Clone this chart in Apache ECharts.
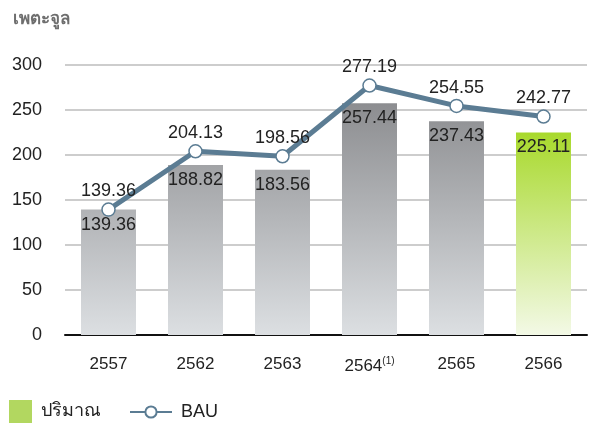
<!DOCTYPE html>
<html>
<head>
<meta charset="utf-8">
<script src="https://cdn.jsdelivr.net/npm/echarts@6/dist/echarts.min.js"></script>
<style>html,body{margin:0;padding:0;background:#fff;}#c{width:590px;height:426px;}</style>
</head>
<body>
<div id="c"></div>
<script>
var categories = ['2557', '2562', '2563', '2564', '2565', '2566'];
var volumeValues = [139.36, 188.82, 183.56, 257.44, 237.43, 225.11];
var bauValues = [139.36, 204.13, 198.56, 277.19, 254.55, 242.77];
var yTicks = [0, 50, 100, 150, 200, 250, 300];
var unitLabel = 'เพตะจูล';
var seriesNames = ['ปริมาณ', 'BAU'];

var FONT = '"Liberation Sans", Arial, "Noto Sans", sans-serif';
var chart = echarts.init(document.getElementById('c'));

var grayGrad = new echarts.graphic.LinearGradient(0, 100, 0, 335, [
  {offset: 0, color: '#8b8c8f'},
  {offset: 1, color: '#dcdfe2'}
], true);
var greenGrad = new echarts.graphic.LinearGradient(0, 0, 0, 1, [
  {offset: 0, color: '#a8d92c'},
  {offset: 1, color: '#f3f9e6'}
]);

var barData = volumeValues.map(function (v, i) {
  return {
    value: v,
    itemStyle: {color: i === volumeValues.length - 1 ? greenGrad : grayGrad}
  };
});

chart.setOption({
  animation: false,
  textStyle: {fontFamily: FONT},
  title: {
    text: unitLabel, left: 8, top: 6,
    textStyle: {fontSize: 17, color: '#6e6e6e', fontWeight: 'bold', fontFamily: FONT}
  },
  legend: [{
    data: [{name: seriesNames[0], icon: 'rect', itemStyle: {color: '#b2d760'}}],
    left: 4, top: 395, itemWidth: 23, itemHeight: 23, itemGap: 10,
    textStyle: {fontSize: 18, color: '#222', padding: [0, 0, 0, 4]}
  }, {
    data: [seriesNames[1]],
    left: 124, top: 398, itemWidth: 42, itemHeight: 14,
    textStyle: {fontSize: 18, color: '#222', padding: [0, 0, 0, 4]}
  }],
  grid: {left: 65, right: 3, top: 65, bottom: 91, containLabel: false},
  xAxis: {
    type: 'category',
    data: categories,
    axisTick: {show: false},
    axisLine: {lineStyle: {color: '#111', width: 2}},
    axisLabel: {
      interval: 0,
      fontSize: 17, color: '#222', margin: 21,
      formatter: function (v) { return v === '2564' ? v + '{sup|(1)}' : v; },
      rich: {sup: {fontSize: 10, verticalAlign: 'top', padding: [0, 0, 10, 0], color: '#222'}}
    }
  },
  yAxis: {
    type: 'value', min: yTicks[0], max: yTicks[yTicks.length - 1], interval: 50,
    axisLine: {show: false}, axisTick: {show: false},
    axisLabel: {fontSize: 18, color: '#222', margin: 23},
    splitLine: {lineStyle: {color: '#bdbdbd', width: 1.5}}
  },
  series: [{
    name: seriesNames[0],
    type: 'bar',
    data: barData,
    barWidth: 55,
    label: {show: true, position: 'insideTop', distance: 6, fontSize: 18, color: '#222'},
    z: 2
  }, {
    name: seriesNames[1],
    type: 'line',
    data: bauValues,
    symbol: 'circle', symbolSize: 13,
    lineStyle: {color: '#5b7c93', width: 5},
    itemStyle: {color: '#ffffff', borderColor: '#5b7c93', borderWidth: 1.5},
    label: {show: true, position: 'top', distance: 2, fontSize: 18, color: '#222'},
    z: 5
  }]
});
</script>
</body>
</html>
